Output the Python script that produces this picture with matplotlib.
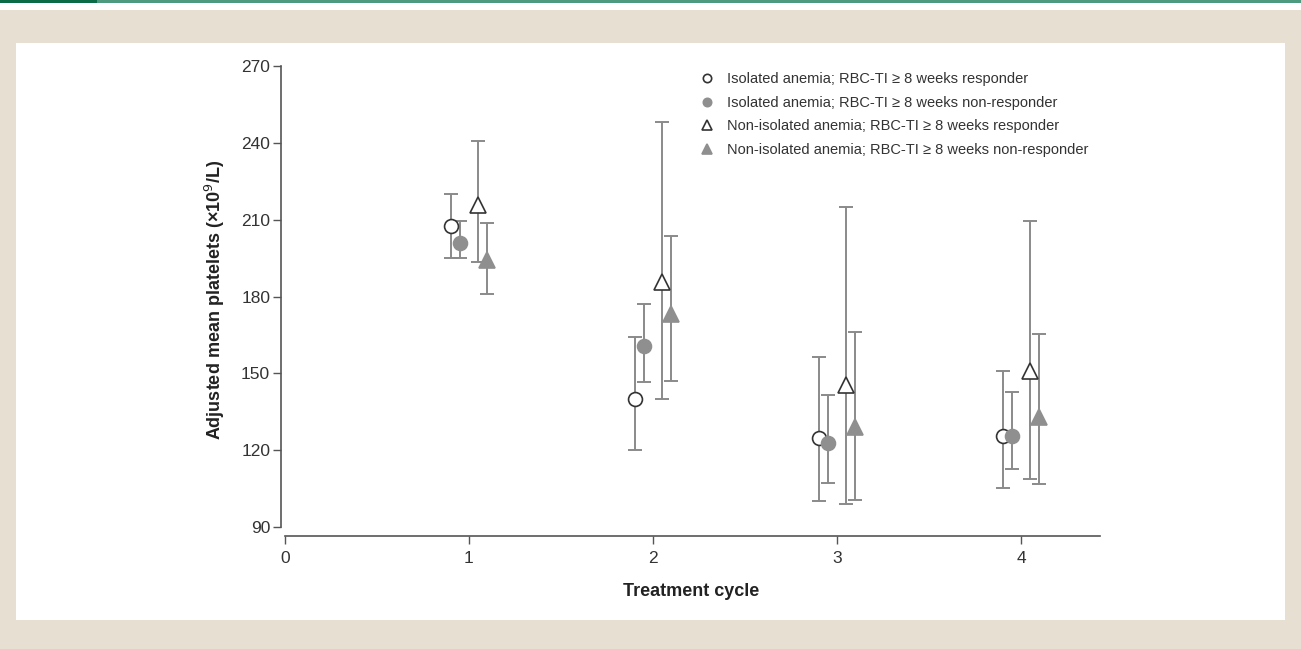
import matplotlib.pyplot as plt
from matplotlib.patches import Rectangle

plt.rcParams['font.family'] = ['Liberation Sans', 'DejaVu Sans']

cycles = [1, 2, 3, 4]
offsets = [-0.1, -0.05, 0.05, 0.1]

labels = ['Isolated anemia; RBC-TI \u2265 8 weeks responder',
          'Isolated anemia; RBC-TI \u2265 8 weeks non-responder',
          'Non-isolated anemia; RBC-TI \u2265 8 weeks responder',
          'Non-isolated anemia; RBC-TI \u2265 8 weeks non-responder']

# adjusted means and CI bounds per group, one value per cycle
iso_resp_mean = [207.5, 140.1, 124.8, 125.6]
iso_resp_low = [195.0, 120.1, 100.2, 105.3]
iso_resp_high = [220.1, 164.3, 156.3, 151.0]

iso_non_mean = [201.0, 160.8, 122.7, 125.6]
iso_non_low = [194.9, 146.6, 107.2, 112.5]
iso_non_high = [209.4, 177.1, 141.7, 142.7]

noniso_resp_mean = [215.7, 185.8, 145.6, 150.9]
noniso_resp_low = [193.5, 139.9, 99.1, 108.9]
noniso_resp_high = [240.7, 248.3, 214.8, 209.5]

noniso_non_mean = [194.3, 173.2, 129.2, 132.8]
noniso_non_low = [181.0, 147.0, 100.5, 106.8]
noniso_non_high = [208.7, 203.7, 166.3, 165.5]

groups = [
    (iso_resp_mean, iso_resp_low, iso_resp_high, 'o', 'white', '#333333'),
    (iso_non_mean, iso_non_low, iso_non_high, 'o', '#8f8f8f', '#8f8f8f'),
    (noniso_resp_mean, noniso_resp_low, noniso_resp_high, '^', 'white', '#333333'),
    (noniso_non_mean, noniso_non_low, noniso_non_high, '^', '#8f8f8f', '#8f8f8f'),
]

fig = plt.figure(figsize=(13.01, 6.49), dpi=100)
fig.patch.set_facecolor('#e6dfd2')

# white panel and top green rule
fig.patches.append(Rectangle((16 / 1301, 1 - 620 / 649), (1285 - 16) / 1301, (620 - 43) / 649,
                             transform=fig.transFigure, facecolor='white', edgecolor='none', zorder=-10))
fig.patches.append(Rectangle((0, 1 - 10 / 649), 1, 10 / 649, transform=fig.transFigure,
                             facecolor='white', edgecolor='none', zorder=-10))
fig.patches.append(Rectangle((0, 1 - 3 / 649), 1, 3 / 649, transform=fig.transFigure,
                             facecolor='#4e9a7f', edgecolor='none', zorder=-9))
fig.patches.append(Rectangle((0, 1 - 3 / 649), 97 / 1301, 3 / 649, transform=fig.transFigure,
                             facecolor='#0b6b47', edgecolor='none', zorder=-8))

ax = fig.add_axes([0.2162, 0.1741, 0.6294, 0.728])
ax.set_facecolor('none')

for (mean, low, high, mk, fc, ec), off, lab in zip(groups, offsets, labels):
    xs = [c + off for c in cycles]
    yerr = [[m - l for m, l in zip(mean, low)], [h - m for m, h in zip(mean, high)]]
    ax.errorbar(xs, mean, yerr=yerr, fmt='none', ecolor='#8a8a8a', elinewidth=1.4,
                capsize=5, capthick=1.4, zorder=2)
    ax.plot(xs, mean, linestyle='none', marker=mk, markersize=10 if mk == 'o' else 11,
            markerfacecolor=fc, markeredgecolor=ec, markeredgewidth=1.2, zorder=3, label=lab)

ax.set_xlim(-0.02, 4.43)
ax.set_ylim(86.5, 271)
ax.set_xticks([0, 1, 2, 3, 4])
ax.set_yticks([90, 120, 150, 180, 210, 240, 270])
ax.spines['top'].set_visible(False)
ax.spines['right'].set_visible(False)
ax.spines['left'].set_bounds(90, 270)
ax.spines['bottom'].set_bounds(0, 4.43)
for s in ['left', 'bottom']:
    ax.spines[s].set_color('#555555')
    ax.spines[s].set_linewidth(1.2)
ax.tick_params(axis='both', colors='#555555', labelcolor='#333333', labelsize=12.5, length=6, width=1)
ax.tick_params(axis='y', pad=2)
ax.tick_params(axis='x', pad=5)

ax.set_xlabel('Treatment cycle', fontsize=13, fontweight='bold', color='#222222', labelpad=12)
ax.set_ylabel('Adjusted mean platelets (\u00d710$^9$/L)', fontsize=13, fontweight='bold',
              color='#222222', labelpad=10)

leg = ax.legend(loc='upper left', bbox_to_anchor=(0.5, 1.0), frameon=False, fontsize=10.5,
                handletextpad=0.9, labelspacing=0.65, handlelength=1.0, markerscale=0.6,
                borderaxespad=0.2, labelcolor='#333333')

fig.savefig('out.png', dpi=100, facecolor=fig.get_facecolor())
